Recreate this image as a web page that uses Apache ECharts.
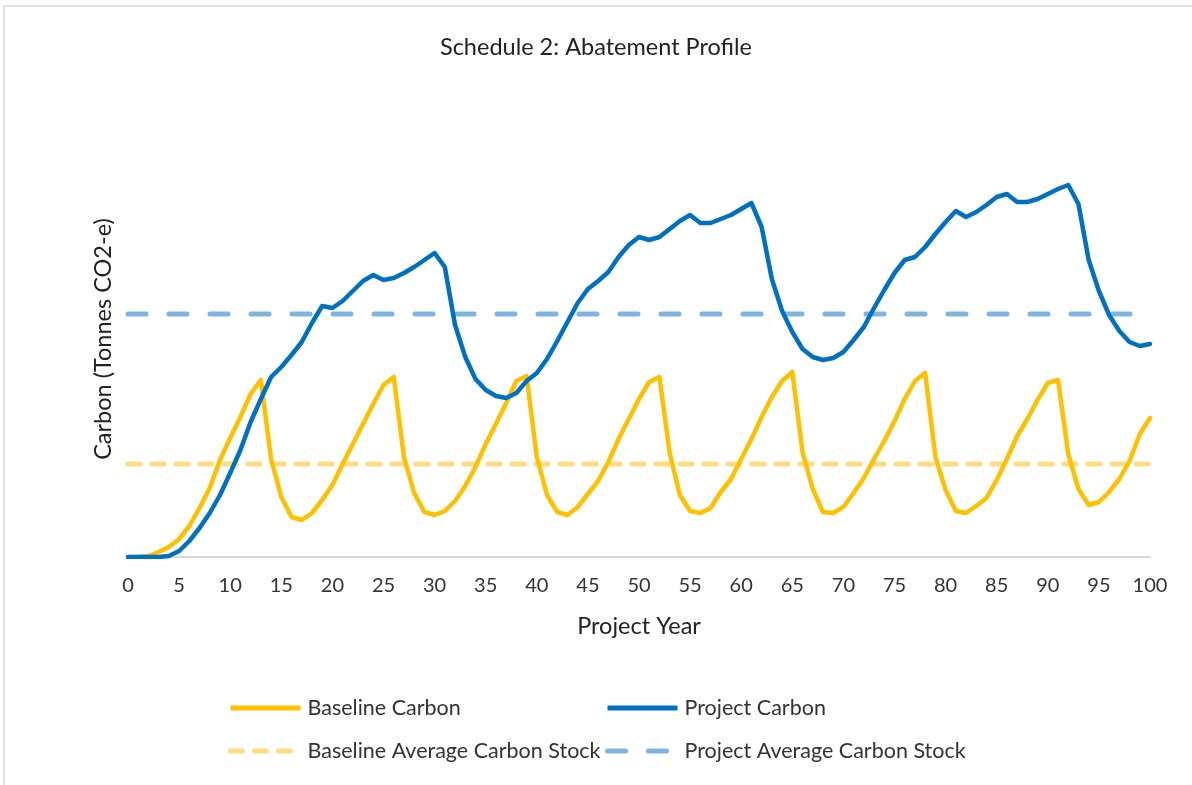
<!DOCTYPE html>
<html>
<head>
<meta charset="utf-8">
<script src="https://cdn.jsdelivr.net/npm/echarts@6/dist/echarts.min.js"></script>
<style>
  html, body { margin: 0; padding: 0; background: #ffffff; }
  #frame { position: absolute; left: 3px; top: 5px; width: 1189px; height: 780px; border-left: 2px solid #e2e2e2; border-top: 2px solid #e2e2e2; box-sizing: border-box; }
  #chart { position: absolute; left: 0; top: 0; width: 1192px; height: 785px; }
</style>
</head>
<body>
<div id="frame"></div>
<div id="chart"></div>
<script>
// Project year 0..100 (index = year)
const baselineCarbon = [
  0, 0, 1, 5, 10, 18, 31, 49, 69, 97, 119, 140, 163, 177,
  98, 60, 40, 37, 44, 57, 72, 93, 113, 133, 153, 172, 180,
  100, 64, 45, 42, 46, 56, 71, 90, 113, 133, 154, 176, 181,
  100, 62, 45, 42, 50, 63, 76, 95, 118, 138, 158, 175, 180,
  104, 62, 46, 44, 49, 65, 78, 98, 118, 140, 160, 176, 185,
  105, 68, 45, 44, 50, 64, 79, 98, 116, 136, 158, 176, 184,
  100, 67, 46, 44, 51, 59, 77, 98, 121, 138, 157, 174, 177,
  103, 68, 52, 55, 65, 78, 96, 123, 139
];
const projectCarbon = [
  0, 0, 0, 0, 1, 6, 16, 29, 44, 62, 84, 107, 135, 158, 180,
  190, 202, 215, 234, 251, 249, 256, 266, 276, 282, 277, 279, 284, 290, 297, 304,
  290, 232, 200, 178, 167, 161, 159, 164, 176, 184, 198, 216, 235, 254, 268,
  276, 285, 300, 312, 320, 317, 320, 328, 336, 342, 334, 334, 338, 342, 348,
  354, 330, 278, 246, 225, 208, 200, 197, 199, 205, 217, 230, 249, 267, 284,
  297, 300, 310, 323, 335, 346, 340, 345, 352, 360, 363, 355, 355, 358, 363,
  368, 372, 353, 297, 266, 242, 226, 215, 211, 213
];
const baselineAverage = 93;
const projectAverage = 243;
const yearRange = [0, 100];

const FONT = 'Lato, "Liberation Sans", sans-serif';
const toPairs = arr => arr.map((v, i) => [i, v]);
const flat = v => [[yearRange[0], v], [yearRange[1], v]];

const COLORS = {
  baseline: '#FFC000',
  project: '#0070C0',
  baselineAvg: '#FFDC82',
  projectAvg: '#7EB5E0'
};
const DASH_BASE = [12, 12];
const DASH_PROJ = [18, 23];

const chart = echarts.init(document.getElementById('chart'), null, { renderer: 'canvas' });

function legendAt(left, top, name, color, dash) {
  return {
    orient: 'horizontal',
    left: left, top: top,
    padding: 0,
    itemWidth: 70,
    itemHeight: 14,
    itemGap: 0,
    selectedMode: false,
    data: [name],
    itemStyle: { opacity: 0 },
    lineStyle: { color: color, width: 5, type: dash || 'solid', cap: dash ? 'round' : 'butt' },
    textStyle: { fontFamily: FONT, fontSize: 21.5, color: '#333333', padding: [0, 0, 0, 2] }
  };
}

chart.setOption({
  backgroundColor: 'transparent',
  animation: false,
  title: {
    text: 'Schedule 2: Abatement Profile',
    left: 'center',
    top: 30,
    textStyle: { fontFamily: FONT, fontSize: 23.5, fontWeight: 'normal', color: '#222222' }
  },
  grid: { left: 128, right: 42, top: 121, bottom: 228, containLabel: false },
  xAxis: {
    type: 'value',
    min: 0, max: 100, interval: 5,
    name: 'Project Year',
    nameLocation: 'middle',
    nameGap: 57,
    nameTextStyle: { fontFamily: FONT, fontSize: 23.5, color: '#222222' },
    axisLine: { show: true, lineStyle: { color: '#d9d9d9', width: 2 } },
    axisTick: { show: false },
    splitLine: { show: false },
    axisLabel: { fontFamily: FONT, fontSize: 20, color: '#333333', margin: 19 }
  },
  yAxis: {
    type: 'value',
    min: 0, max: 436,
    name: 'Carbon (Tonnes CO2-e)',
    nameLocation: 'middle',
    nameGap: 13,
    nameTextStyle: { fontFamily: FONT, fontSize: 23.5, color: '#222222' },
    axisLine: { show: false },
    axisTick: { show: false },
    axisLabel: { show: false },
    splitLine: { show: false }
  },
  legend: [
    legendAt(228, 697, 'Baseline Carbon', COLORS.baseline, null),
    legendAt(605, 697, 'Project Carbon', COLORS.project, null),
    legendAt(228, 740, 'Baseline Average Carbon Stock', COLORS.baselineAvg, DASH_BASE),
    legendAt(605, 740, 'Project Average Carbon Stock', COLORS.projectAvg, DASH_PROJ)
  ],
  series: [
    {
      name: 'Baseline Average Carbon Stock', type: 'line', symbol: 'none',
      data: flat(baselineAverage),
      lineStyle: { color: COLORS.baselineAvg, width: 5, type: DASH_BASE, cap: 'round' },
      itemStyle: { color: COLORS.baselineAvg }, z: 1
    },
    {
      name: 'Project Average Carbon Stock', type: 'line', symbol: 'none',
      data: flat(projectAverage),
      lineStyle: { color: COLORS.projectAvg, width: 5, type: DASH_PROJ, cap: 'round' },
      itemStyle: { color: COLORS.projectAvg }, z: 1
    },
    {
      name: 'Baseline Carbon', type: 'line', symbol: 'none',
      data: toPairs(baselineCarbon),
      lineStyle: { color: COLORS.baseline, width: 4.5, join: 'round', cap: 'round' },
      itemStyle: { color: COLORS.baseline }, z: 2
    },
    {
      name: 'Project Carbon', type: 'line', symbol: 'none',
      data: toPairs(projectCarbon),
      lineStyle: { color: COLORS.project, width: 4.5, join: 'round', cap: 'round' },
      itemStyle: { color: COLORS.project }, z: 3
    }
  ]
});
</script>
</body>
</html>
